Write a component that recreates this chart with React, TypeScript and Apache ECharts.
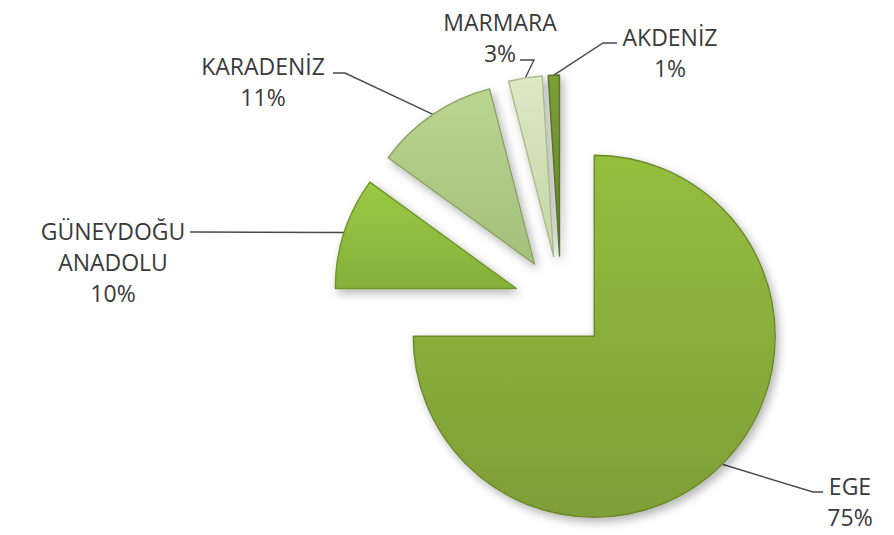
import React, { useEffect, useRef } from "react";
import * as echarts from "echarts";

// ---- data ----
const CATEGORIES = ["EGE", "GÜNEYDOĞU ANADOLU", "KARADENİZ", "MARMARA", "AKDENİZ"];
const VALUES = [75, 10, 11, 3, 1];

// ---- styles ----
const COLOR_TOP = ["#94BE3D", "#9ACA45", "#BAD590", "#DCE9C6", "#7C9F35"];
const COLOR_BOTTOM = ["#7E9E37", "#85AF39", "#A3BF7B", "#C4D6A6", "#62832A"];
const BORDER = ["#6B8A2B", "#6F952B", "#8AA464", "#A9BE88", "#56742A"];

// ---- layout ----
const CENTER = [561, 303];
const RADIUS = 181;
const EXPLODE = 47;
// label block centre and leader-line bend / end points (pixels)
const LABEL_POS = [
  { x: 850, y: 501, bend: [813, 492], end: [823, 492] },
  { x: 113, y: 262, bend: [196, 232], end: [190, 232] },
  { x: 263, y: 81, bend: [345, 73], end: [333, 73] },
  { x: 500, y: 37, bend: [534, 60], end: [520, 60] },
  { x: 670, y: 52, bend: [603, 43], end: [617, 43] },
];

const TOTAL = VALUES.reduce((a, b) => a + b, 0);
function midAngle(i: number): number {
  let cum = 0;
  for (let k = 0; k < i; k++) cum += VALUES[k];
  return ((cum + VALUES[i] / 2) / TOTAL) * Math.PI * 2;
}
function sliceCenter(i: number): number[] {
  const m = midAngle(i);
  return [CENTER[0] + EXPLODE * Math.sin(m), CENTER[1] - EXPLODE * Math.cos(m)];
}
function midEdgePoint(i: number): number[] {
  const m = midAngle(i);
  const c = sliceCenter(i);
  return [c[0] + RADIUS * Math.sin(m), c[1] - RADIUS * Math.cos(m)];
}

export default function App() {
  const ref = useRef<HTMLDivElement>(null);
  useEffect(() => {
    if (!ref.current) return;
    const chart = echarts.init(ref.current, undefined, { renderer: "svg" });
    const series = CATEGORIES.map((_, s) => ({
      type: "pie",
      center: sliceCenter(s),
      radius: RADIUS,
      startAngle: 90,
      clockwise: true,
      avoidLabelOverlap: false,
      silent: true,
      z: s === 0 ? 2 : 3,
      label: {
        show: true,
        position: "outside",
        formatter: (p: any) => `${String(p.name).replace(" ", "\n")}\n${p.value}%`,
        fontFamily: "Open Sans",
        fontSize: 23,
        lineHeight: 31,
        color: "#3a3a3a",
        align: "center",
      },
      labelLine: {
        show: true,
        lineStyle: { color: "#4a4a4a", width: 1.4 },
      },
      labelLayout: (params: any) => {
        const i = params.dataIndex;
        const L = LABEL_POS[i];
        return {
          x: L.x,
          y: L.y,
          align: "center",
          verticalAlign: "middle",
          labelLinePoints: [midEdgePoint(i), L.bend, L.end],
        };
      },
      data: CATEGORIES.map((name, i) =>
        i === s
          ? {
              name,
              value: VALUES[i],
              itemStyle: {
                color: new echarts.graphic.LinearGradient(0, 0, 0, 1, [
                  { offset: 0, color: COLOR_TOP[i] },
                  { offset: 1, color: COLOR_BOTTOM[i] },
                ]),
                borderColor: BORDER[i],
                borderWidth: 1.4,
                shadowBlur: 10,
                shadowOffsetX: 3,
                shadowOffsetY: 4,
                shadowColor: "rgba(0,0,0,0.3)",
              },
            }
          : {
              name,
              value: VALUES[i],
              itemStyle: { color: "rgba(0,0,0,0)", borderWidth: 0 },
              label: { show: false },
              labelLine: { show: false },
            }
      ),
    }));
    chart.setOption({
      animation: false,
      backgroundColor: "#ffffff",
      series,
    });
    return () => chart.dispose();
  }, []);
  return (
    <div
      ref={ref}
      style={{ position: "absolute", left: 0, top: 0, width: 894, height: 535 }}
    />
  );
}
